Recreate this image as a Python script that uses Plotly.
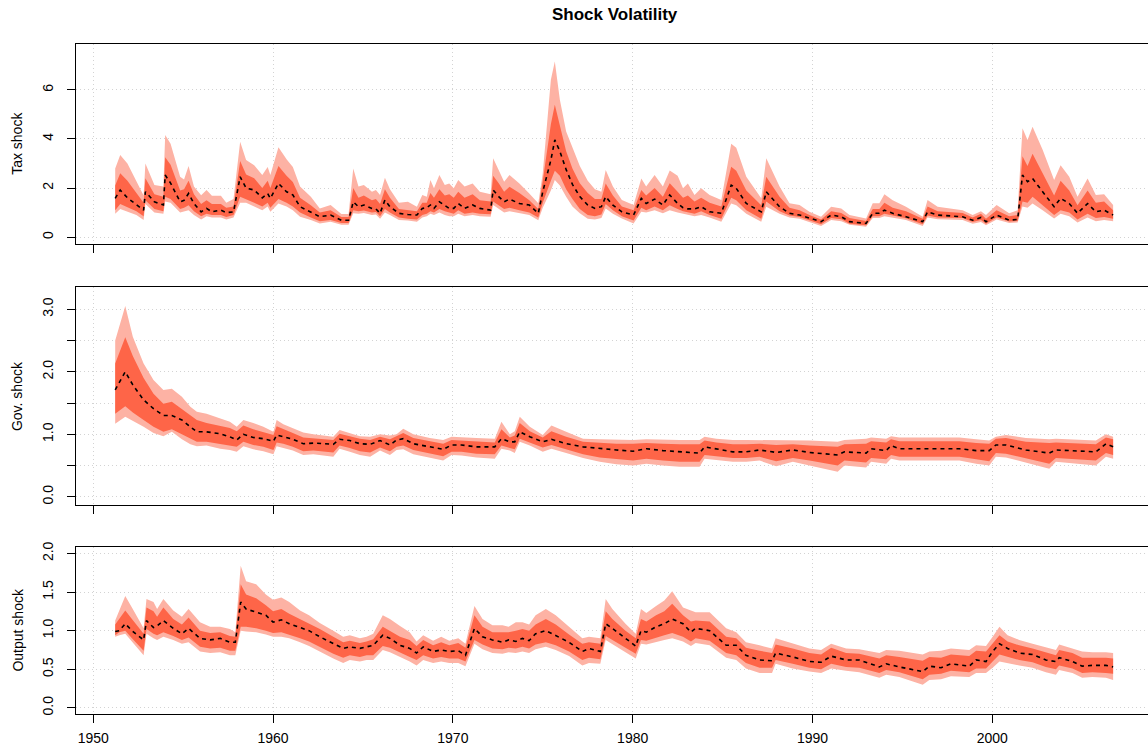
import plotly.graph_objects as go

# ---------------- data ----------------
tax_year = [1951.22, 1951.50, 1951.90, 1952.40, 1952.80, 1952.90, 1953.40, 1953.90, 1954.00, 1954.30,
            1954.83, 1955.05, 1955.30, 1955.60, 1956.00, 1956.30, 1956.60, 1957.10, 1957.40, 1957.80,
            1958.17, 1958.50, 1958.95, 1959.40, 1959.70, 1959.85, 1960.30, 1960.75, 1961.10, 1961.50,
            1962.10, 1962.60, 1963.20, 1963.80, 1964.20, 1964.46, 1964.75, 1965.05, 1965.50, 1965.72,
            1965.95, 1966.22, 1966.50, 1967.00, 1967.50, 1968.00, 1968.30, 1968.55, 1968.75, 1968.95,
            1969.25, 1969.55, 1969.80, 1970.05, 1970.30, 1970.65, 1971.10, 1971.50, 1972.10, 1972.24,
            1972.55, 1972.85, 1973.15, 1973.70, 1974.25, 1974.75, 1975.00, 1975.45, 1975.67, 1975.95,
            1976.30, 1976.65, 1977.06, 1977.50, 1977.90, 1978.26, 1978.50, 1978.90, 1979.40, 1980.05,
            1980.48, 1980.75, 1981.22, 1981.68, 1982.06, 1982.50, 1982.80, 1983.07, 1983.44, 1983.81,
            1984.28, 1984.93, 1985.48, 1985.76, 1986.32, 1987.15, 1987.43, 1988.17, 1988.72, 1989.28,
            1989.83, 1990.48, 1991.04, 1991.60, 1992.06, 1992.98, 1993.35, 1993.72, 1994.00, 1994.46,
            1995.20, 1996.13, 1996.40, 1996.96, 1998.35, 1998.91, 1999.37, 1999.65, 2000.24, 2000.94,
            2001.41, 2001.68, 2001.96, 2002.24, 2002.80, 2003.44, 2003.80, 2004.28, 2004.74, 2005.30,
            2005.76, 2006.22, 2006.72]
tax_lo90 = [0.95, 1.15, 1.05, 0.90, 0.70, 1.35, 1.00, 0.95, 1.45, 1.40,
            1.00, 1.05, 1.10, 0.90, 0.72, 0.85, 0.80, 0.80, 0.72, 0.80,
            1.40, 1.40, 1.25, 1.10, 1.25, 1.03, 1.37, 1.25, 1.10, 0.83,
            0.70, 0.56, 0.63, 0.50, 0.50, 0.97, 0.95, 0.98, 0.90, 0.92,
            0.75, 1.00, 0.90, 0.70, 0.68, 0.63, 0.80, 0.85, 0.95, 0.90,
            1.00, 0.90, 0.85, 0.85, 0.95, 0.85, 0.90, 0.85, 0.83, 1.31,
            1.15, 1.00, 1.05, 0.97, 0.90, 0.69, 1.20, 1.90, 2.33, 2.10,
            1.65, 1.25, 0.97, 0.75, 0.72, 0.78, 1.17, 0.95, 0.76, 0.56,
            1.03, 1.00, 1.10, 0.97, 1.10, 1.00, 0.95, 0.90, 0.85, 0.90,
            0.80, 0.63, 1.37, 1.30, 0.95, 0.63, 1.24, 0.95, 0.80, 0.75,
            0.60, 0.45, 0.70, 0.65, 0.50, 0.42, 0.78, 0.78, 0.85, 0.80,
            0.70, 0.45, 0.80, 0.73, 0.70, 0.55, 0.62, 0.48, 0.72, 0.58,
            0.60, 1.25, 1.20, 1.37, 1.10, 0.76, 0.95, 0.85, 0.60, 0.80,
            0.65, 0.70, 0.65]
tax_lo68 = [1.10, 1.35, 1.20, 1.05, 0.85, 1.50, 1.15, 1.05, 1.65, 1.55,
            1.15, 1.20, 1.30, 1.05, 0.85, 0.95, 0.90, 0.90, 0.82, 0.90,
            1.65, 1.55, 1.40, 1.25, 1.40, 1.20, 1.55, 1.40, 1.25, 1.00,
            0.80, 0.65, 0.70, 0.58, 0.58, 1.10, 1.05, 1.08, 1.00, 1.02,
            0.85, 1.15, 1.00, 0.80, 0.75, 0.72, 0.90, 0.95, 1.05, 1.00,
            1.15, 1.05, 1.00, 0.95, 1.10, 0.95, 1.00, 0.95, 0.93, 1.45,
            1.30, 1.15, 1.20, 1.10, 1.00, 0.80, 1.40, 2.30, 2.70, 2.50,
            1.95, 1.55, 1.15, 0.90, 0.85, 0.92, 1.35, 1.10, 0.85, 0.68,
            1.20, 1.10, 1.25, 1.10, 1.30, 1.15, 1.05, 1.00, 0.95, 1.05,
            0.90, 0.75, 1.60, 1.50, 1.10, 0.75, 1.45, 1.05, 0.88, 0.82,
            0.68, 0.52, 0.78, 0.73, 0.55, 0.48, 0.85, 0.85, 0.95, 0.88,
            0.77, 0.52, 0.88, 0.80, 0.78, 0.62, 0.70, 0.55, 0.80, 0.64,
            0.66, 1.45, 1.40, 1.65, 1.30, 0.90, 1.10, 1.00, 0.72, 0.95,
            0.78, 0.82, 0.75]
tax_med = [1.58, 1.92, 1.60, 1.32, 1.10, 1.85, 1.44, 1.31, 2.53, 2.20,
           1.44, 1.50, 1.78, 1.37, 1.03, 1.17, 1.03, 1.10, 1.00, 1.03,
           2.46, 2.00, 1.92, 1.60, 1.78, 1.58, 2.19, 1.85, 1.72, 1.24,
           1.03, 0.83, 0.90, 0.69, 0.69, 1.44, 1.24, 1.31, 1.17, 1.15,
           0.97, 1.51, 1.24, 0.97, 0.92, 0.90, 1.17, 1.20, 1.31, 1.17,
           1.44, 1.31, 1.17, 1.17, 1.37, 1.17, 1.31, 1.17, 1.10, 1.92,
           1.65, 1.44, 1.55, 1.37, 1.31, 0.97, 1.85, 3.14, 3.96, 3.50,
           2.75, 2.15, 1.65, 1.31, 1.17, 1.24, 1.65, 1.30, 1.03, 0.90,
           1.58, 1.37, 1.55, 1.31, 1.72, 1.37, 1.20, 1.15, 1.15, 1.24,
           1.03, 0.97, 2.12, 1.99, 1.37, 1.03, 1.85, 1.24, 0.97, 0.90,
           0.77, 0.63, 0.90, 0.83, 0.63, 0.56, 0.97, 0.97, 1.10, 0.97,
           0.83, 0.63, 1.03, 0.90, 0.83, 0.69, 0.80, 0.63, 0.90, 0.69,
           0.72, 2.53, 2.26, 2.39, 1.85, 1.24, 1.58, 1.37, 0.97, 1.37,
           1.03, 1.10, 0.90]
tax_hi68 = [2.10, 2.60, 2.30, 1.80, 1.40, 2.40, 1.75, 1.65, 3.25, 2.95,
            1.90, 1.95, 2.30, 1.75, 1.35, 1.50, 1.35, 1.35, 1.20, 1.25,
            3.10, 2.55, 2.40, 2.00, 2.30, 2.00, 2.90, 2.50, 2.25, 1.60,
            1.30, 1.00, 1.10, 0.82, 0.82, 2.00, 1.60, 1.70, 1.50, 1.55,
            1.35, 1.95, 1.60, 1.15, 1.10, 1.05, 1.40, 1.40, 1.80, 1.60,
            1.95, 1.70, 1.75, 1.60, 1.85, 1.60, 1.75, 1.50, 1.45, 2.50,
            2.20, 1.85, 2.05, 1.80, 1.50, 1.15, 2.30, 4.60, 5.39, 4.50,
            3.50, 2.80, 2.20, 1.80, 1.55, 1.55, 2.19, 1.70, 1.25, 1.10,
            1.92, 1.70, 2.00, 1.65, 2.20, 1.85, 1.60, 1.70, 1.45, 1.60,
            1.40, 1.25, 2.87, 2.70, 1.90, 1.30, 2.46, 1.65, 1.20, 1.10,
            0.90, 0.72, 1.05, 0.98, 0.78, 0.66, 1.15, 1.15, 1.40, 1.20,
            1.05, 0.75, 1.25, 1.05, 0.98, 0.80, 0.95, 0.75, 1.10, 0.85,
            0.90, 3.30, 2.90, 3.40, 2.60, 1.70, 2.30, 1.90, 1.30, 1.90,
            1.40, 1.45, 1.10]
tax_hi90 = [2.80, 3.35, 3.00, 2.30, 1.70, 3.00, 2.12, 2.06, 4.16, 3.80,
            2.46, 2.35, 2.90, 2.06, 1.71, 1.92, 1.69, 1.69, 1.40, 1.55,
            3.89, 3.14, 2.93, 2.53, 2.86, 2.53, 3.66, 3.17, 2.86, 2.06,
            1.65, 1.17, 1.31, 0.94, 0.94, 2.80, 2.06, 2.12, 1.85, 1.92,
            1.72, 2.42, 1.95, 1.40, 1.44, 1.24, 1.72, 1.65, 2.33, 1.99,
            2.53, 2.12, 2.19, 1.99, 2.33, 2.06, 2.19, 1.85, 1.75, 3.21,
            2.74, 2.26, 2.53, 2.19, 1.78, 1.38, 2.60, 6.41, 7.16, 5.60,
            4.30, 3.69, 2.90, 2.30, 1.95, 1.85, 2.74, 2.06, 1.51, 1.31,
            2.39, 2.06, 2.53, 2.06, 2.71, 2.50, 1.99, 2.19, 1.72, 1.99,
            1.72, 1.51, 3.80, 3.64, 2.46, 1.58, 3.21, 2.06, 1.38, 1.31,
            1.03, 0.83, 1.24, 1.17, 0.90, 0.76, 1.38, 1.38, 1.75, 1.50,
            1.24, 0.83, 1.51, 1.24, 1.10, 0.90, 1.05, 0.90, 1.31, 0.97,
            1.10, 4.44, 3.96, 4.50, 3.56, 2.33, 2.93, 2.46, 1.65, 2.39,
            1.72, 1.75, 1.31]

gov_year = [1951.22, 1951.78, 1952.20, 1952.80, 1953.35, 1953.90, 1954.37, 1954.93, 1955.40, 1955.76,
            1956.30, 1957.06, 1957.60, 1957.98, 1958.35, 1958.90, 1959.46, 1960.02, 1960.20, 1960.57,
            1961.10, 1961.68, 1962.24, 1962.80, 1963.35, 1963.70, 1964.27, 1964.83, 1965.40, 1965.95,
            1966.50, 1966.87, 1967.24, 1967.80, 1968.72, 1969.46, 1969.93, 1970.48, 1971.31, 1972.33,
            1972.70, 1973.17, 1973.44, 1973.72, 1974.28, 1975.00, 1975.48, 1976.30, 1977.24, 1978.17,
            1979.09, 1980.02, 1980.76, 1981.68, 1982.61, 1983.72, 1984.00, 1984.65, 1985.57, 1986.32,
            1987.06, 1987.98, 1988.91, 1989.83, 1991.40, 1991.78, 1992.98, 1993.26, 1994.10, 1994.37,
            1994.83, 1996.30, 1998.17, 1999.10, 1999.83, 2000.20, 2000.76, 2001.87, 2003.17, 2003.54,
            2004.65, 2005.76, 2006.32, 2006.72]
gov_lo90 = [1.17, 1.28, 1.22, 1.12, 1.02, 0.97, 1.04, 0.92, 0.84, 0.81,
            0.82, 0.77, 0.75, 0.72, 0.81, 0.76, 0.73, 0.68, 0.81, 0.78,
            0.74, 0.67, 0.68, 0.66, 0.64, 0.77, 0.72, 0.67, 0.64, 0.74,
            0.67, 0.75, 0.76, 0.68, 0.62, 0.58, 0.67, 0.66, 0.63, 0.61,
            0.77, 0.74, 0.70, 0.88, 0.82, 0.72, 0.77, 0.70, 0.62, 0.56,
            0.52, 0.50, 0.53, 0.50, 0.48, 0.48, 0.61, 0.59, 0.56, 0.56,
            0.58, 0.49, 0.56, 0.50, 0.40, 0.50, 0.47, 0.56, 0.53, 0.61,
            0.58, 0.58, 0.58, 0.53, 0.50, 0.64, 0.63, 0.55, 0.45, 0.56,
            0.53, 0.50, 0.64, 0.61]
gov_lo68 = [1.33, 1.45, 1.35, 1.23, 1.12, 1.04, 1.08, 1.00, 0.93, 0.88,
            0.88, 0.84, 0.82, 0.80, 0.88, 0.83, 0.80, 0.75, 0.87, 0.85,
            0.80, 0.73, 0.74, 0.72, 0.71, 0.82, 0.78, 0.73, 0.71, 0.79,
            0.73, 0.80, 0.82, 0.75, 0.69, 0.65, 0.72, 0.72, 0.69, 0.68,
            0.82, 0.78, 0.76, 0.93, 0.87, 0.79, 0.83, 0.76, 0.68, 0.63,
            0.60, 0.58, 0.61, 0.58, 0.56, 0.56, 0.67, 0.65, 0.62, 0.62,
            0.64, 0.57, 0.62, 0.58, 0.50, 0.58, 0.55, 0.62, 0.60, 0.67,
            0.64, 0.64, 0.64, 0.60, 0.57, 0.70, 0.69, 0.62, 0.53, 0.62,
            0.60, 0.58, 0.70, 0.67]
gov_med = [1.71, 2.00, 1.79, 1.55, 1.41, 1.30, 1.30, 1.23, 1.12, 1.04,
           1.04, 1.01, 0.96, 0.91, 1.00, 0.95, 0.93, 0.89, 0.99, 0.96,
           0.92, 0.85, 0.86, 0.85, 0.84, 0.92, 0.90, 0.85, 0.84, 0.90,
           0.83, 0.91, 0.93, 0.85, 0.80, 0.76, 0.83, 0.83, 0.80, 0.80,
           0.93, 0.88, 0.88, 1.04, 0.96, 0.88, 0.92, 0.85, 0.80, 0.77,
           0.75, 0.73, 0.77, 0.74, 0.72, 0.70, 0.80, 0.77, 0.72, 0.72,
           0.75, 0.71, 0.75, 0.71, 0.67, 0.72, 0.70, 0.77, 0.74, 0.82,
           0.77, 0.77, 0.77, 0.74, 0.74, 0.83, 0.83, 0.75, 0.70, 0.75,
           0.74, 0.72, 0.85, 0.80]
gov_hi68 = [2.13, 2.55, 2.25, 1.90, 1.65, 1.49, 1.52, 1.40, 1.30, 1.23,
            1.18, 1.14, 1.10, 1.05, 1.14, 1.08, 1.03, 0.99, 1.13, 1.08,
            1.02, 0.95, 0.94, 0.93, 0.91, 1.01, 0.97, 0.93, 0.91, 0.96,
            0.92, 0.97, 1.02, 0.94, 0.89, 0.85, 0.91, 0.90, 0.88, 0.87,
            1.08, 0.95, 0.98, 1.18, 1.05, 0.95, 1.05, 0.96, 0.88, 0.86,
            0.85, 0.85, 0.86, 0.85, 0.84, 0.84, 0.90, 0.87, 0.84, 0.84,
            0.85, 0.83, 0.84, 0.82, 0.80, 0.84, 0.85, 0.89, 0.87, 0.92,
            0.89, 0.89, 0.89, 0.86, 0.85, 0.93, 0.94, 0.88, 0.86, 0.87,
            0.85, 0.84, 0.95, 0.92]
gov_hi90 = [2.50, 3.05, 2.56, 2.13, 1.87, 1.71, 1.73, 1.60, 1.44, 1.36,
            1.33, 1.26, 1.20, 1.12, 1.23, 1.18, 1.12, 1.04, 1.23, 1.16,
            1.10, 1.03, 1.00, 0.98, 0.96, 1.07, 1.02, 0.97, 0.96, 1.00,
            0.98, 1.00, 1.09, 1.00, 0.94, 0.91, 0.96, 0.95, 0.94, 0.93,
            1.20, 1.00, 1.05, 1.28, 1.12, 0.99, 1.14, 1.04, 0.93, 0.92,
            0.91, 0.91, 0.92, 0.91, 0.91, 0.91, 0.96, 0.93, 0.91, 0.91,
            0.91, 0.90, 0.91, 0.90, 0.88, 0.91, 0.93, 0.95, 0.93, 0.97,
            0.95, 0.95, 0.95, 0.92, 0.90, 0.96, 0.99, 0.94, 0.92, 0.93,
            0.91, 0.90, 1.00, 0.96]

out_year = [1951.22, 1951.45, 1951.78, 1952.15, 1952.80, 1952.96, 1953.35, 1953.55, 1953.90, 1954.45,
            1954.93, 1955.30, 1955.94, 1956.50, 1957.06, 1957.60, 1957.90, 1958.20, 1958.50, 1959.06,
            1959.60, 1960.00, 1960.46, 1960.90, 1961.50, 1962.00, 1962.60, 1963.35, 1963.90, 1964.27,
            1964.83, 1965.20, 1965.57, 1966.10, 1966.50, 1967.06, 1967.60, 1967.98, 1968.35, 1968.90,
            1969.35, 1969.80, 1970.30, 1970.70, 1971.20, 1971.65, 1972.20, 1972.76, 1973.10, 1973.50,
            1973.87, 1974.24, 1974.60, 1975.17, 1975.72, 1976.46, 1977.20, 1977.57, 1978.20, 1978.50,
            1978.87, 1979.60, 1980.17, 1980.46, 1980.76, 1981.30, 1981.76, 1982.20, 1982.80, 1983.24,
            1983.50, 1984.28, 1985.20, 1985.76, 1986.30, 1987.06, 1987.75, 1987.95, 1988.90, 1989.83,
            1990.48, 1991.04, 1991.87, 1992.60, 1993.72, 1994.10, 1994.83, 1996.13, 1996.50, 1997.15,
            1997.70, 1998.72, 1999.10, 1999.65, 2000.02, 2000.40, 2000.85, 2001.50, 2002.24, 2002.98,
            2003.54, 2003.72, 2004.46, 2005.00, 2005.57, 2006.32, 2006.72]
out_lo90 = [0.92, 0.94, 0.96, 0.85, 0.68, 0.96, 0.90, 0.88, 0.92, 0.88,
            0.83, 0.85, 0.73, 0.71, 0.72, 0.68, 0.68, 1.00, 0.99, 0.98,
            0.95, 0.92, 0.92, 0.90, 0.85, 0.80, 0.73, 0.64, 0.58, 0.62,
            0.60, 0.62, 0.62, 0.75, 0.72, 0.66, 0.60, 0.55, 0.62, 0.58,
            0.60, 0.58, 0.58, 0.54, 0.83, 0.76, 0.71, 0.70, 0.72, 0.71,
            0.73, 0.71, 0.76, 0.79, 0.75, 0.67, 0.55, 0.58, 0.57, 0.88,
            0.83, 0.72, 0.64, 0.83, 0.82, 0.85, 0.88, 0.90, 0.86, 0.80,
            0.84, 0.81, 0.65, 0.62, 0.51, 0.45, 0.45, 0.57, 0.51, 0.47,
            0.45, 0.51, 0.48, 0.46, 0.39, 0.43, 0.40, 0.30, 0.36, 0.37,
            0.41, 0.40, 0.45, 0.45, 0.52, 0.60, 0.58, 0.55, 0.52, 0.46,
            0.43, 0.49, 0.45, 0.39, 0.40, 0.39, 0.36]
out_lo68 = [0.94, 0.98, 1.00, 0.90, 0.74, 1.02, 0.96, 0.94, 0.98, 0.93,
            0.88, 0.91, 0.79, 0.77, 0.78, 0.74, 0.74, 1.05, 1.05, 1.03,
            1.00, 0.97, 0.98, 0.95, 0.90, 0.86, 0.79, 0.70, 0.65, 0.68,
            0.66, 0.68, 0.68, 0.80, 0.78, 0.72, 0.66, 0.62, 0.68, 0.64,
            0.66, 0.64, 0.64, 0.60, 0.88, 0.82, 0.77, 0.76, 0.78, 0.77,
            0.79, 0.77, 0.82, 0.85, 0.81, 0.73, 0.62, 0.65, 0.63, 0.93,
            0.88, 0.78, 0.70, 0.88, 0.87, 0.91, 0.94, 0.97, 0.92, 0.86,
            0.90, 0.87, 0.71, 0.68, 0.58, 0.52, 0.52, 0.62, 0.57, 0.52,
            0.50, 0.57, 0.53, 0.52, 0.45, 0.49, 0.46, 0.37, 0.43, 0.44,
            0.48, 0.46, 0.51, 0.51, 0.60, 0.69, 0.66, 0.62, 0.59, 0.53,
            0.50, 0.55, 0.51, 0.45, 0.46, 0.45, 0.44]
out_med = [0.99, 1.00, 1.09, 1.00, 0.88, 1.13, 1.04, 1.06, 1.13, 1.03,
           0.96, 1.03, 0.90, 0.88, 0.90, 0.85, 0.85, 1.37, 1.28, 1.24,
           1.20, 1.11, 1.14, 1.09, 1.04, 1.00, 0.92, 0.83, 0.77, 0.79,
           0.77, 0.79, 0.81, 0.94, 0.90, 0.81, 0.77, 0.71, 0.79, 0.73,
           0.75, 0.73, 0.74, 0.68, 1.03, 0.92, 0.88, 0.85, 0.88, 0.86,
           0.90, 0.87, 0.96, 1.00, 0.94, 0.85, 0.73, 0.77, 0.73, 1.09,
           1.03, 0.90, 0.80, 1.00, 0.98, 1.05, 1.09, 1.15, 1.09, 0.98,
           1.03, 1.00, 0.81, 0.81, 0.68, 0.62, 0.61, 0.71, 0.66, 0.60,
           0.59, 0.67, 0.62, 0.62, 0.53, 0.57, 0.53, 0.47, 0.54, 0.52,
           0.57, 0.54, 0.62, 0.60, 0.73, 0.83, 0.77, 0.71, 0.69, 0.62,
           0.60, 0.65, 0.60, 0.54, 0.55, 0.55, 0.53]
out_hi68 = [1.08, 1.15, 1.26, 1.15, 0.96, 1.30, 1.25, 1.18, 1.30, 1.15,
            1.08, 1.17, 1.00, 0.97, 0.98, 0.93, 0.92, 1.60, 1.47, 1.42,
            1.33, 1.25, 1.28, 1.22, 1.15, 1.10, 1.02, 0.92, 0.85, 0.87,
            0.84, 0.86, 0.89, 1.05, 1.00, 0.92, 0.88, 0.80, 0.88, 0.81,
            0.85, 0.81, 0.84, 0.78, 1.20, 1.05, 0.98, 0.98, 0.98, 1.00,
            1.02, 1.00, 1.08, 1.15, 1.08, 0.95, 0.83, 0.85, 0.83, 1.25,
            1.15, 1.00, 0.90, 1.15, 1.12, 1.20, 1.25, 1.35, 1.20, 1.12,
            1.13, 1.12, 0.92, 0.90, 0.78, 0.74, 0.71, 0.82, 0.77, 0.71,
            0.69, 0.78, 0.71, 0.70, 0.64, 0.68, 0.66, 0.61, 0.66, 0.65,
            0.69, 0.67, 0.74, 0.73, 0.84, 0.94, 0.86, 0.81, 0.77, 0.72,
            0.68, 0.75, 0.71, 0.65, 0.65, 0.65, 0.64]
out_hi90 = [1.13, 1.26, 1.45, 1.30, 1.03, 1.41, 1.37, 1.28, 1.41, 1.26,
            1.18, 1.28, 1.11, 1.05, 1.05, 1.02, 0.98, 1.84, 1.64, 1.60,
            1.47, 1.40, 1.43, 1.37, 1.26, 1.20, 1.10, 1.00, 0.92, 0.94,
            0.90, 0.92, 0.96, 1.20, 1.15, 1.06, 0.98, 0.86, 0.94, 0.87,
            0.92, 0.87, 0.90, 0.83, 1.32, 1.15, 1.07, 1.07, 1.05, 1.11,
            1.11, 1.08, 1.20, 1.28, 1.20, 1.05, 0.90, 0.92, 0.90, 1.41,
            1.28, 1.09, 0.96, 1.28, 1.23, 1.32, 1.39, 1.51, 1.30, 1.26,
            1.24, 1.24, 1.03, 0.98, 0.85, 0.81, 0.77, 0.90, 0.83, 0.77,
            0.75, 0.83, 0.77, 0.76, 0.71, 0.75, 0.74, 0.69, 0.73, 0.74,
            0.77, 0.75, 0.81, 0.80, 0.92, 1.05, 0.94, 0.88, 0.83, 0.78,
            0.75, 0.82, 0.77, 0.73, 0.72, 0.72, 0.71]

x_ticks = [1950, 1960, 1970, 1980, 1990, 2000]
tax_ticks = [0, 2, 4, 6]
tax_ticklabels = ["0", "2", "4", "6"]
gov_ticks = [0.0, 0.5, 1.0, 1.5, 2.0, 2.5, 3.0]
gov_ticklabels = ["0.0", "", "1.0", "", "2.0", "", "3.0"]
out_ticks = [0.0, 0.5, 1.0, 1.5, 2.0]
out_ticklabels = ["0.0", "0.5", "1.0", "1.5", "2.0"]
panel_titles = ["Tax shock", "Gov. shock", "Output shock"]
main_title = "Shock Volatility"

# ---------------- styling ----------------
LIGHT = "#FDB2A4"
DARK = "#FE6548"
FONT = "Liberation Sans, Arial, sans-serif"

panels = [
    dict(year=tax_year, lo90=tax_lo90, lo68=tax_lo68, med=tax_med, hi68=tax_hi68, hi90=tax_hi90,
         yrange=[-0.28, 7.87], ticks=tax_ticks, labels=tax_ticklabels, domain=[0.7015, 1.0]),
    dict(year=gov_year, lo90=gov_lo90, lo68=gov_lo68, med=gov_med, hi68=gov_hi68, hi90=gov_hi90,
         yrange=[-0.13, 3.35], ticks=gov_ticks, labels=gov_ticklabels, domain=[0.3119, 0.6369]),
    dict(year=out_year, lo90=out_lo90, lo68=out_lo68, med=out_med, hi68=out_hi68, hi90=out_hi90,
         yrange=[-0.08, 2.08], ticks=out_ticks, labels=out_ticklabels, domain=[0.0, 0.2488]),
]

fig = go.Figure()
layout = dict(
    width=1148, height=749,
    margin=dict(l=76, r=0, t=44, b=35),
    paper_bgcolor="white", plot_bgcolor="white",
    showlegend=False,
    font=dict(family=FONT, color="black"),
)

for i, p in enumerate(panels):
    n = "" if i == 0 else str(i + 1)
    xa, ya = "x" + n, "y" + n
    yrs = p["year"]
    fig.add_trace(go.Scatter(x=yrs + yrs[::-1], y=p["hi90"] + p["lo90"][::-1],
                             mode="lines", fill="toself", fillcolor=LIGHT,
                             line=dict(width=0, color=LIGHT), hoverinfo="skip",
                             xaxis=xa, yaxis=ya))
    fig.add_trace(go.Scatter(x=yrs + yrs[::-1], y=p["hi68"] + p["lo68"][::-1],
                             mode="lines", fill="toself", fillcolor=DARK,
                             line=dict(width=0, color=DARK), hoverinfo="skip",
                             xaxis=xa, yaxis=ya))
    fig.add_trace(go.Scatter(x=yrs, y=p["med"], mode="lines",
                             line=dict(color="black", width=1.6, dash="4px,4px"),
                             xaxis=xa, yaxis=ya))
    layout["xaxis" + n] = dict(
        domain=[0, 1], range=[1949.04, 2008.66], anchor=ya,
        tickvals=x_ticks, ticktext=[str(v) for v in x_ticks],
        showticklabels=(i == 2), ticks="outside", ticklen=8, tickwidth=1, tickcolor="black",
        showline=True, mirror=True, linecolor="black", linewidth=1.3,
        showgrid=True, gridcolor="#D3D3D3", gridwidth=1, griddash="1px,3px",
        zeroline=False, tickfont=dict(size=14, family=FONT, color="black"),
        ticklabelstandoff=3,
    )
    layout["yaxis" + n] = dict(
        domain=p["domain"], range=p["yrange"], anchor=xa,
        tickvals=p["ticks"], ticktext=p["labels"], tickangle=-90,
        ticks="outside", ticklen=8, tickwidth=1, tickcolor="black",
        showline=True, mirror=False, linecolor="black", linewidth=1.3,
        showgrid=True, gridcolor="#D3D3D3", gridwidth=1, griddash="1px,3px",
        zeroline=False, tickfont=dict(size=14, family=FONT, color="black"),
        ticklabelstandoff=8,
    )

annotations = [dict(text="<b>%s</b>" % main_title, x=0.503, y=1.044, xref="paper", yref="paper",
                    xanchor="center", yanchor="middle", showarrow=False,
                    font=dict(size=17, family=FONT, color="black"))]
centers = [0.851, 0.4746, 0.1246]
for t, c in zip(panel_titles, centers):
    annotations.append(dict(text=t, x=-0.055, y=c, xref="paper", yref="paper",
                            xanchor="center", yanchor="middle", textangle=-90, showarrow=False,
                            font=dict(size=14, family=FONT, color="black")))
layout["annotations"] = annotations

fig.update_layout(**layout)
fig.write_html("out.html")
